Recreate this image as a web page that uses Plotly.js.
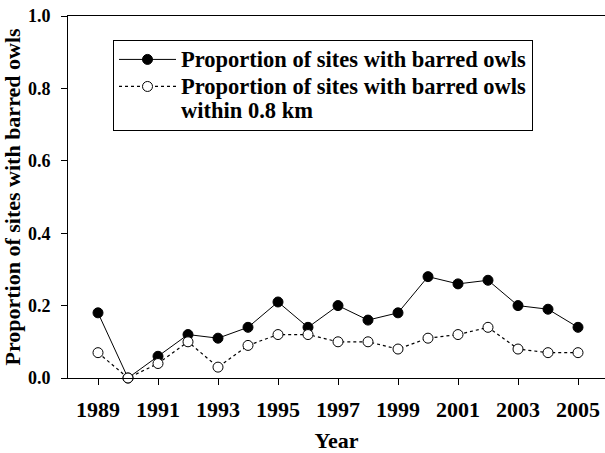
<!DOCTYPE html>
<html>
<head>
<meta charset="utf-8">
<script src="https://cdn.plot.ly/plotly-3.0.1.min.js"></script>
<style>html,body{margin:0;padding:0;background:#fff;}#chart{width:605px;height:453px;}</style>
</head>
<body>
<div id="chart"></div>
<script>
var years = [1989,1990,1991,1992,1993,1994,1995,1996,1997,1998,1999,2000,2001,2002,2003,2004,2005];
var propAll = [0.18,0.00,0.06,0.12,0.11,0.14,0.21,0.14,0.20,0.16,0.18,0.28,0.26,0.27,0.20,0.19,0.14];
var propNear = [0.07,0.00,0.04,0.10,0.03,0.09,0.12,0.12,0.10,0.10,0.08,0.11,0.12,0.14,0.08,0.07,0.07];
var xTicks = [1989,1991,1993,1995,1997,1999,2001,2003,2005];
var yTicks = [0,0.2,0.4,0.6,0.8,1.0];
var seriesNames = ['Proportion of sites with barred owls', 'Proportion of sites with barred owls<br>within 0.8 km'];

var FONT = 'Liberation Serif, Times New Roman, serif';
function big(s) {
  return s.split('<br>').map(function(p){return '<span style="font-size:22.5px">' + p + '</span>';}).join('<br>');
}

var traces = [
  {
    x: years, y: propAll, name: big(seriesNames[0]), type: 'scatter', mode: 'lines+markers',
    line: {color: '#000', width: 1, dash: 'solid'},
    marker: {symbol: 'circle', size: 10, color: '#000', line: {color: '#000', width: 1}},
    cliponaxis: false
  },
  {
    x: years, y: propNear, name: big(seriesNames[1]), type: 'scatter', mode: 'lines+markers',
    line: {color: '#000', width: 1.2, dash: 'dot'},
    marker: {symbol: 'circle', size: 10, color: '#fff', line: {color: '#000', width: 1}},
    cliponaxis: false
  }
];

var layout = {
  width: 605, height: 453,
  margin: {l: 68, r: 0, t: 16, b: 75},
  paper_bgcolor: '#fff', plot_bgcolor: '#fff',
  font: {family: FONT, size: 22, color: '#000', weight: 700},
  showlegend: true,
  legend: {
    x: 0.0838, y: 0.934, xanchor: 'left', yanchor: 'top',
    bordercolor: '#000', borderwidth: 1, bgcolor: '#fff',
    font: {family: FONT, size: 18.5, color: '#000', weight: 700},
    valign: 'top', itemwidth: 57, tracegroupgap: 0
  },
  xaxis: {
    range: [1988.0, 2005.9], showgrid: false, zeroline: false,
    showline: true, linecolor: '#000', linewidth: 1, mirror: true,
    ticks: 'outside', ticklen: 6, tickwidth: 1, tickcolor: '#000',
    tickmode: 'array', tickvals: xTicks, ticktext: xTicks.map(String),
    tickfont: {family: FONT, size: 22, color: '#000', weight: 700},
    ticklabelstandoff: 6,
    title: {text: 'Year', font: {family: FONT, size: 22, color: '#000', weight: 700}, standoff: 14},
    automargin: false, fixedrange: true
  },
  yaxis: {
    range: [0, 1], showgrid: false, zeroline: false,
    showline: true, linecolor: '#000', linewidth: 1,
    ticks: 'outside', ticklen: 6, tickwidth: 1, tickcolor: '#000',
    tickmode: 'array', tickvals: yTicks, ticktext: yTicks.map(function(v){return v.toFixed(1);}),
    tickfont: {family: FONT, size: 18, color: '#000', weight: 700},
    ticklabelstandoff: 7,
    title: {text: 'Proportion of sites with barred owls', font: {family: FONT, size: 22, color: '#000', weight: 700}, standoff: 8},
    automargin: false, fixedrange: true
  }
};

Plotly.newPlot('chart', traces, layout, {displayModeBar: false, staticPlot: true});
</script>
</body>
</html>
